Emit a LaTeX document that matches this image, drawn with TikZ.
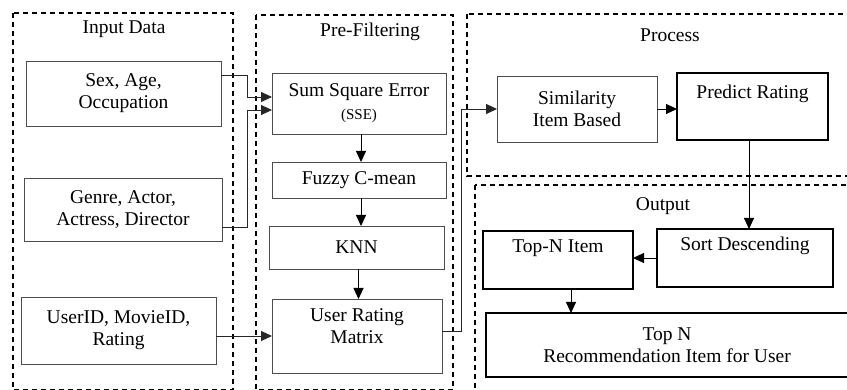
\documentclass[tikz,border=0pt]{standalone}
\usepackage{fontspec}
\setmainfont{Liberation Serif}
\usetikzlibrary{arrows.meta}
\begin{document}
\begin{tikzpicture}[x=1pt,y=-1pt,
  font=\fontsize{19.5}{22}\selectfont,
  box/.style={draw=black!70, line width=0.8pt, inner sep=0pt, outer sep=0pt, align=center, anchor=north west, text=black},
  tbox/.style={box, draw=black, line width=1.4pt},
  group/.style={draw=black, line width=1.3pt, dash pattern=on 5pt off 4pt},
  title/.style={text=black},
  conn/.style={draw=black!85, line width=0.9pt, -{Triangle[length=11pt,width=10pt]}},
]
\useasboundingbox (0,0) rectangle (847,390);
\clip (0,0) rectangle (847,390);
\fill[white] (0,0) rectangle (847,390);

% group boxes
\draw[group] (13,13) rectangle (233,390);
\draw[group] (256,15) rectangle (453,390);
\draw[group] (467,14) rectangle (862,176);
\draw[group] (475,185) rectangle (862,402);

\node[title] (tin) at (124,29) {Input Data};
\node[title] (tpre) at (370,32) {Pre-Filtering};
\node[title] (tproc) at (670,35) {Process};
\node[title] (tout) at (663,206) {Output};

% input boxes
\node[box, minimum width=195pt, minimum height=65pt] (b1) at (26,61) {Sex, Age,\\Occupation};
\node[box, minimum width=198pt, minimum height=63pt] (b2) at (24,178) {Genre, Actor,\\Actress, Director};
\node[box, minimum width=195pt, minimum height=67pt] (b3) at (21,297) {UserID, MovieID,\\Rating};

% pre-filtering
\node[box, minimum width=174pt, minimum height=61pt] (sse) at (272,73) {Sum Square Error\\[1pt]{\fontsize{15}{17}\selectfont(SSE)}};
\node[box, minimum width=174pt, minimum height=36pt] (fuzzy) at (272,162) {Fuzzy C-mean};
\node[box, minimum width=175pt, minimum height=43pt] (knn) at (269,226) {KNN};
\node[box, minimum width=170pt, minimum height=74pt] (urm) at (272,299) {User Rating\\Matrix\\[-8pt]\strut};

% process
\node[box, minimum width=160pt, minimum height=66pt] (sim) at (497,76) {Similarity\\Item Based};
\node[tbox, minimum width=151pt, minimum height=67pt] (pred) at (677,73) {Predict Rating\\\strut};

% output
\node[tbox, minimum width=176pt, minimum height=58pt] (sort) at (657,229) {Sort Descending\\\strut};
\node[tbox, minimum width=150pt, minimum height=58pt] (topn) at (483,231) {Top-N Item\\\strut};
\node[tbox, minimum width=362pt, minimum height=64pt] (rec) at (486,313) {Top N\\Recommendation Item for User};

% connectors
\draw[conn] ([yshift=18.5pt]b1.east) -- ++(26,0) |- ([yshift=6.5pt]sse.west);
\draw[conn] ([yshift=-17.5pt]b2.east) -- ++(25,0) |- ([yshift=-6.5pt]sse.west);
\draw[conn] (b3.east |- urm.west) -- (urm.west);
\draw[conn, draw=black] ([xshift=2pt]sse.south) -- ([xshift=2pt]sse.south |- fuzzy.north);
\draw[conn, draw=black] ([xshift=2pt]fuzzy.south) -- ([xshift=2pt]fuzzy.south |- knn.north);
\draw[conn, draw=black] ([xshift=2pt]knn.south) -- ([xshift=2pt]knn.south |- urm.north);
\draw[conn] ([yshift=5pt]urm.east) -- ++(19,0) |- (sim.west);
\draw[conn, draw=black] (sim.east) -- (sim.east -| pred.west);
\draw[conn, draw=black] ([xshift=-3.5pt]pred.south) -- ([xshift=-3.5pt]pred.south |- sort.north);
\draw[conn, draw=black] (sort.west) -- (sort.west -| topn.east);
\draw[conn, draw=black] ([xshift=13pt]topn.south) -- ([xshift=13pt]topn.south |- rec.north);
\end{tikzpicture}
\end{document}
